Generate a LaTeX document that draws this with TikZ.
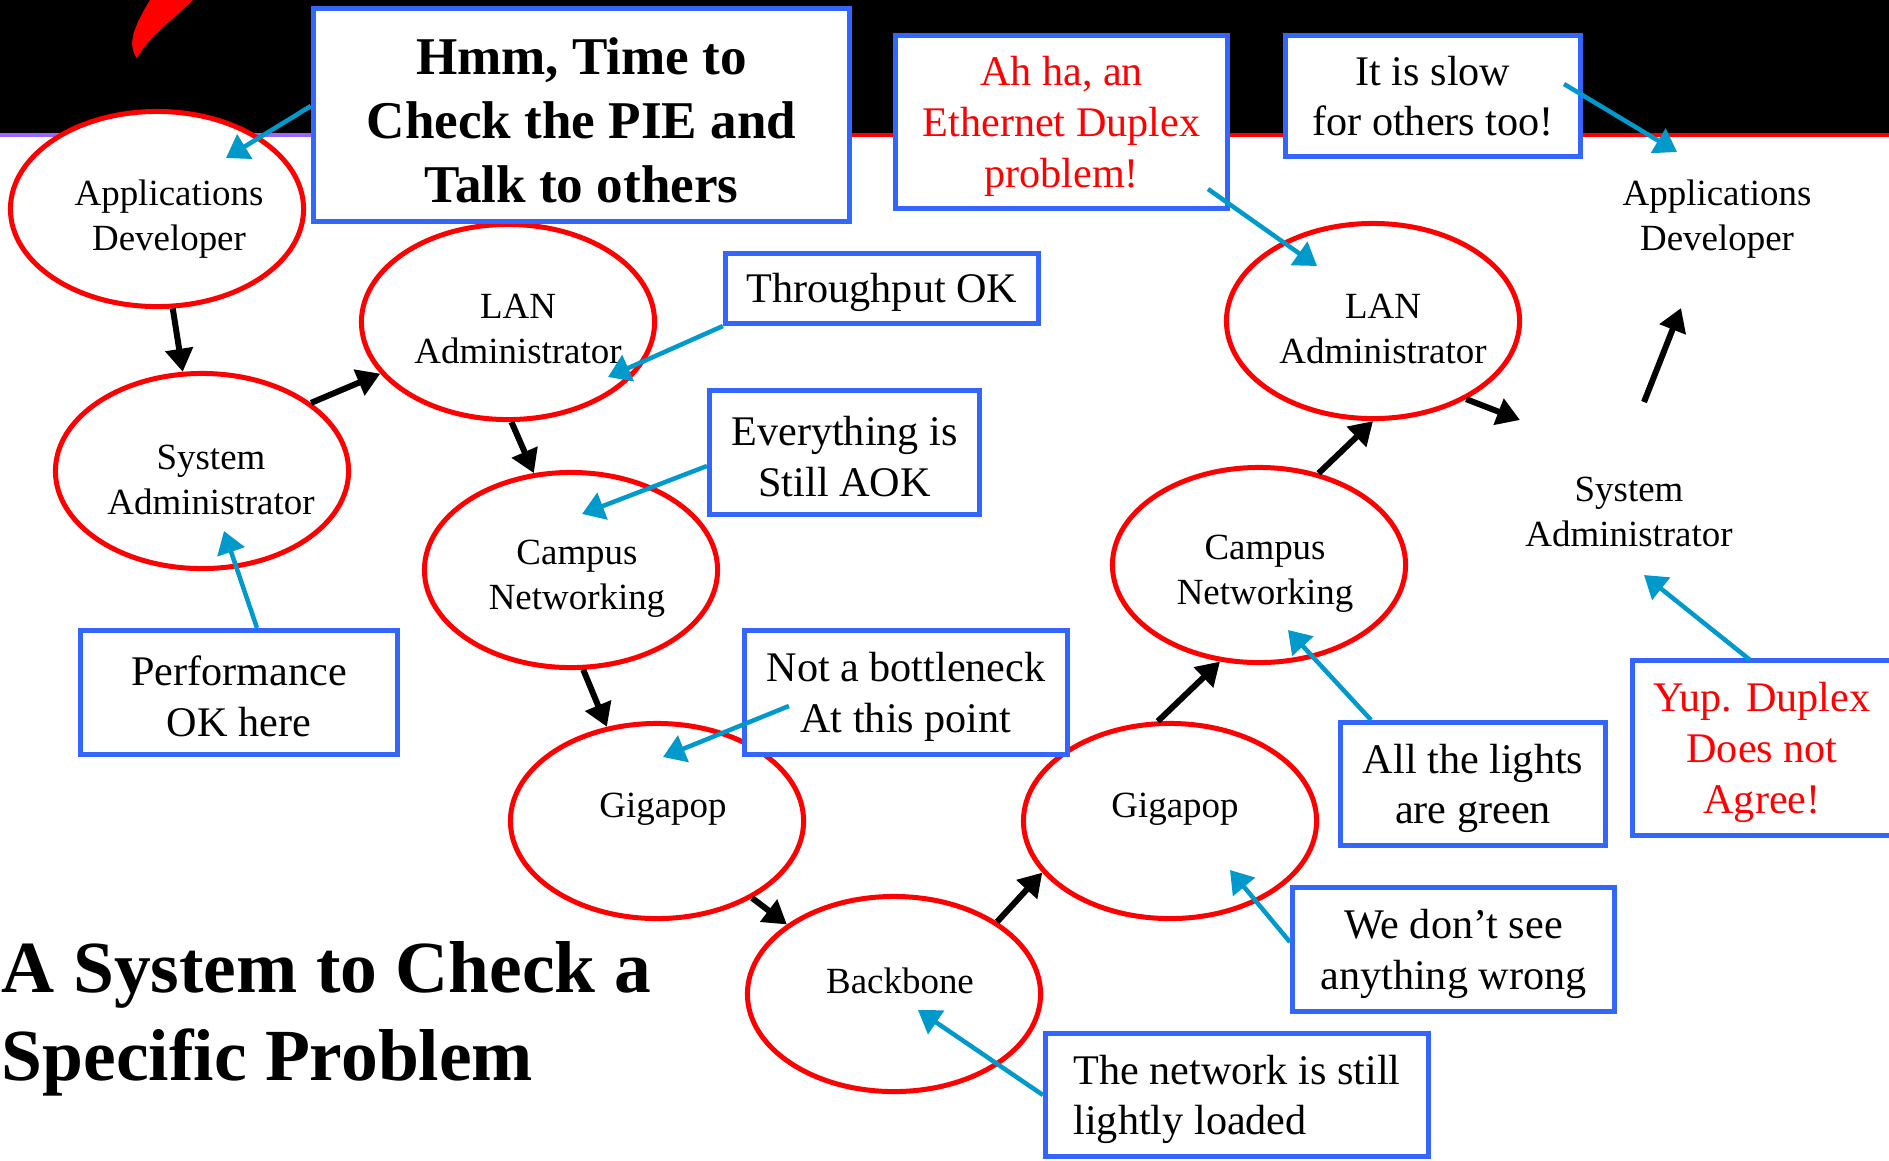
\documentclass[tikz,border=0pt]{standalone}
\usepackage{fontspec}
\setmainfont{Liberation Serif}
\usetikzlibrary{shapes.geometric,arrows.meta,calc}
\definecolor{boxblue}{RGB}{51,102,255}
\definecolor{arrblue}{RGB}{0,153,204}
\definecolor{pptred}{RGB}{255,0,0}
\definecolor{bandpurple}{RGB}{153,102,255}
\newcommand\fstrut{\rule{0pt}{0.9em}}
\begin{document}
\begin{tikzpicture}[x=0.01cm,y=-0.01cm,
  role/.style={ellipse,draw=pptred,line width=0.05cm,fill=white,minimum width=2.93cm,minimum height=1.95cm,inner sep=0pt},
  roletext/.style={align=center,font=\fontsize{10.5}{12.7}\selectfont,inner sep=0pt},
  notebox/.style={draw=boxblue,line width=0.05cm,fill=white,align=center,inner sep=0pt,font=\fontsize{12}{14.4}\selectfont},
  flow/.style={line width=0.06cm,-{Triangle[length=0.23cm,width=0.27cm]}},
  hint/.style={color=arrblue,line width=0.045cm,-{Triangle[length=0.22cm,width=0.28cm]}},
  titletext/.style={anchor=base west,inner sep=0pt,font=\fontsize{20.9}{25}\selectfont\bfseries}
]
\useasboundingbox (0,0) rectangle (1889,1160);
\fill[white] (0,0) rectangle (1889,1160);
% title band
\fill[black] (0,0) rectangle (1889,133);
\fill[bandpurple] (0,133) rectangle (580,137);
\fill[pptred] (580,133) rectangle (1889,137);
\fill[pptred] (137,58) .. controls (127,45) and (133,28) .. (150,0) -- (193,0) .. controls (175,18) and (150,35) .. (137,58) -- cycle;

% ellipses
\node[role] (adL) at (157,209) {};
\node[role] (saL) at (202,471) {};
\node[role] (lanL) at (508,322) {};
\node[role] (campL) at (571,570) {};
\node[role] (gigL) at (657,821) {};
\node[role] (bb) at (894,994) {};
\node[role] (gigR) at (1170,821) {};
\node[role] (campR) at (1259,565) {};
\node[role] (lanR) at (1373,321) {};

\node[roletext] (adLt) at (169,219) {Applications\\Developer};
\node[roletext] (saLt) at (211,480) {System\\Administrator};
\node[roletext] (lanLt) at (518,329) {LAN\\Administrator};
\node[roletext] (campLt) at (577,579) {Campus\\Networking};
\node[roletext] (gigLt) at (663,809) {Gigapop};
\node[roletext] (bbt) at (900,981) {Backbone};
\node[roletext] (gigRt) at (1175,809) {Gigapop};
\node[roletext] (campRt) at (1265,574) {Campus\\Networking};
\node[roletext] (lanRt) at (1383,329) {LAN\\Administrator};
\node[roletext] (adR) at (1717,219) {Applications\\Developer};
\node[roletext] (saR) at (1629,512) {System\\Administrator};

% boxes
\node[notebox,font=\fontsize{15.1}{18.2}\selectfont\bfseries,minimum width=5.36cm,minimum height=2.13cm] (hmm) at (581.5,115) {\fstrut Hmm, Time to\\Check the PIE and\\Talk to others};
\node[notebox,minimum width=3.13cm,minimum height=0.70cm] (thr) at (882,288.5) {\fstrut Throughput OK};
\node[notebox,minimum width=2.70cm,minimum height=1.24cm] (every) at (844.5,452.5) {\fstrut Everything is\\Still AOK};
\node[notebox,minimum width=3.17cm,minimum height=1.24cm] (perf) at (239,692.5) {\fstrut Performance\\OK here};
\node[notebox,minimum width=3.23cm,minimum height=1.24cm] (bottle) at (906,692.5) {\fstrut Not a bottleneck\\At this point};
\node[notebox,align=left,minimum width=3.83cm,minimum height=1.23cm] (net) at (1237,1095) {\fstrut The network is still\\lightly loaded};
\node[notebox,minimum width=3.22cm,minimum height=1.24cm] (wedont) at (1453.5,949.5) {\fstrut We don’t see\\anything wrong};
\node[notebox,minimum width=2.65cm,minimum height=1.23cm] (lights) at (1473,784) {\fstrut All the lights\\are green};
\node[notebox,text=pptred,minimum width=2.59cm,minimum height=1.75cm] (yup) at (1762,748) {\fstrut Yup. Duplex\\Does not\\Agree!};
\node[notebox,text=pptred,minimum width=3.32cm,minimum height=1.73cm] (ahha) at (1061.5,122) {\fstrut Ah ha, an\\Ethernet Duplex\\problem!};
\node[notebox,minimum width=2.95cm,minimum height=1.21cm] (slow) at (1433,96) {It is slow\\for others too!};

% title
\node[titletext] (title1) at (1,992) {A System to Check a};
\node[titletext] (title2) at (1,1080) {Specific Problem};

% flow arrows
\draw[flow] (adL.-81.6) -- (saL.101.4);
\draw[flow] (saL.32.6) -- (lanL.-158.9);
\draw[flow] (lanL.-88.2) -- (campL.111.7);
\draw[flow] (campL.-83.3) -- (gigL.118.3);
\draw[flow] (gigL.-39.9) -- (bb.147.5);
\draw[flow] (bb.35.7) -- (gigR.-158);
\draw[flow] (gigR.97.6) -- (campR.-112.1);
\draw[flow] (campR.57.3) -- (lanR.-90.6);
\draw[flow] (lanR.-40.6) -- ($(saR)+(-109,-92)$);
\draw[flow] ($(saR)+(15,-110)$) -- ($(adR)+(-36,89)$);

% hint arrows
\draw[hint] ($(hmm.west)+(0,-9)$) -- ($(adL)+(69,-51)$);
\draw[hint] (thr.south west) -- ($(lanL)+(100,55)$);
\draw[hint] ($(every.west)+(0,13.5)$) -- ($(campL)+(11,-56)$);
\draw[hint] ($(perf.north)+(18,0)$) -- ($(saL)+(22,60)$);
\draw[hint] ($(bottle.west)+(47,13.5)$) -- ($(gigL)+(6,-64)$);
\draw[hint] (net.west) -- ($(bb)+(24,16)$);
\draw[hint] ($(wedont.west)+(0,-7.5)$) -- ($(gigR)+(60,49)$);
\draw[hint] ($(lights.north)+(-102,0)$) -- ($(campR)+(29,65)$);
\draw[hint] ($(yup.north)+(-12,2)$) -- ($(saR)+(15,63)$);
\draw[hint] ($(ahha)+(146.5,67)$) -- ($(lanR)+(-56,-55)$);
\draw[hint] ($(slow)+(131,-12)$) -- ($(adR)+(-40,-67)$);
\end{tikzpicture}
\end{document}
